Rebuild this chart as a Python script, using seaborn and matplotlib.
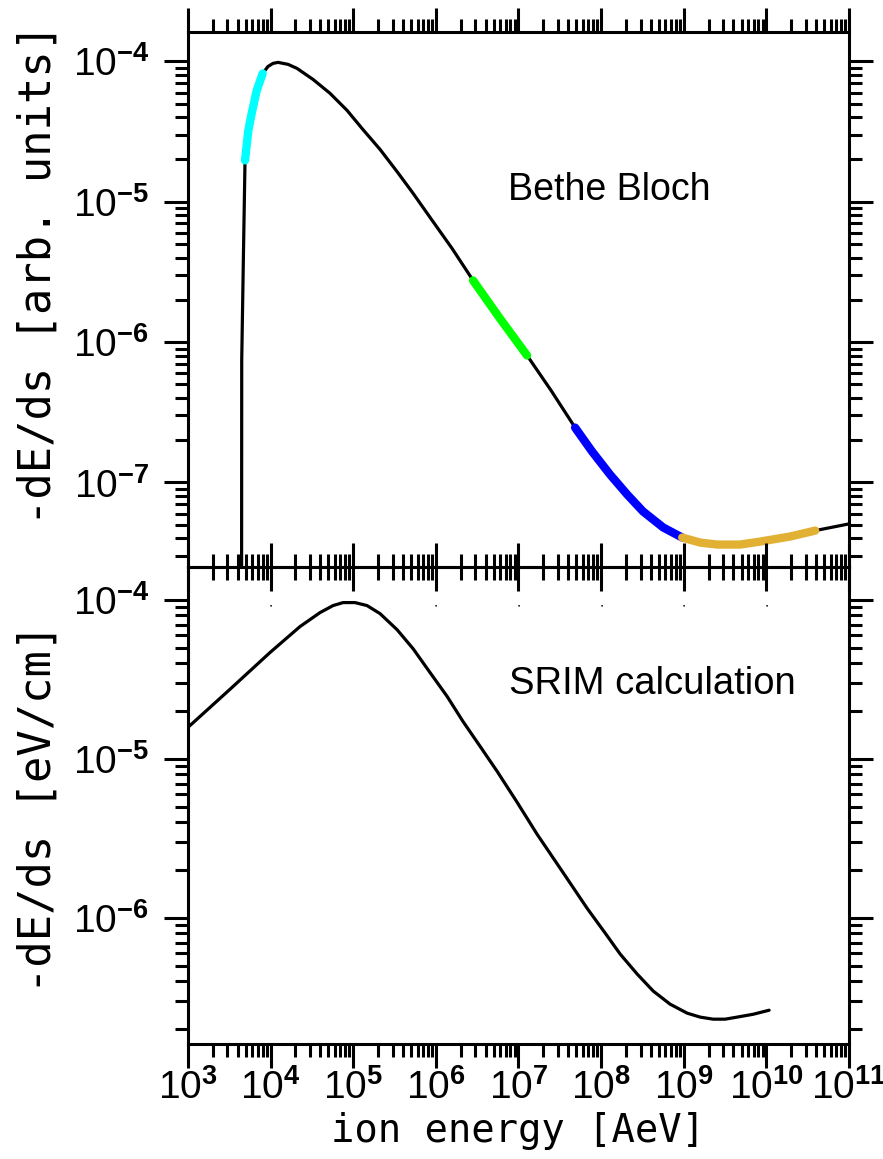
import numpy as np
import pandas as pd
import matplotlib
matplotlib.use("Agg")
import matplotlib.pyplot as plt
import seaborn as sns
from matplotlib.ticker import LogLocator, FuncFormatter, NullFormatter

# Bethe-Bloch curve (top panel)
bb_energy = [4.44e3, 4.47e3, 4.67e3, 4.90e3, 5.37e3, 5.90e3, 6.79e3, 8.02e3, 9.31e3, 1.07e4,
             1.23e4, 1.63e4, 2.09e4, 3.26e4, 5.24e4, 8.41e4, 1.31e5, 2.11e5, 3.39e5, 5.29e5,
             8.51e5, 1.57e6, 2.82e6, 5.98e6, 1.27e7, 2.48e7, 4.84e7, 7.78e7, 1.28e8, 2.07e8,
             3.22e8, 5.63e8, 9.57e8, 1.58e9, 2.54e9, 4.82e9, 8.41e9, 1.94e10, 3.90e10, 1.04e11]
bb_dedx = [1e-9, 7.40e-7, 3.63e-6, 1.97e-5, 3.22e-5, 4.26e-5, 6.21e-5, 8.21e-5, 9.21e-5, 9.68e-5,
           9.84e-5, 9.52e-5, 8.91e-5, 7.44e-5, 5.92e-5, 4.48e-5, 3.27e-5, 2.36e-5, 1.64e-5, 1.15e-5,
           7.73e-6, 4.65e-6, 2.75e-6, 1.47e-6, 8.03e-7, 4.52e-7, 2.46e-7, 1.66e-7, 1.14e-7, 8.20e-8,
           6.21e-8, 4.78e-8, 4.05e-8, 3.73e-8, 3.61e-8, 3.61e-8, 3.79e-8, 4.12e-8, 4.54e-8, 5.09e-8]

# highlighted energy ranges on the Bethe-Bloch curve
seg_lo = [4.90e3, 2.82e6, 4.84e7, 9.57e8]
seg_hi = [8.02e3, 1.27e7, 9.57e8, 3.90e10]
seg_colors = ["#00ffff", "#00ff00", "#0000ff", "#e2b133"]

# SRIM calculation (bottom panel)
srim_energy = [1.00e3, 3.22e3, 9.84e3, 2.27e4, 3.96e4, 5.69e4, 7.53e4, 1.05e5, 1.47e5, 2.11e5,
               3.39e5, 5.29e5, 8.51e5, 1.37e6, 2.13e6, 3.43e6, 5.51e6, 9.62e6, 1.68e7, 3.37e7,
               6.77e7, 1.12e8, 1.70e8, 2.73e8, 4.27e8, 6.84e8, 1.10e9, 1.58e9, 2.27e9, 3.17e9,
               4.43e9, 6.92e9, 1.08e10]
srim_dedx = [1.58e-5, 2.74e-5, 4.67e-5, 6.80e-5, 8.32e-5, 9.21e-5, 9.62e-5, 9.62e-5, 9.21e-5, 8.20e-5,
             6.50e-5, 4.94e-5, 3.49e-5, 2.47e-5, 1.72e-5, 1.20e-5, 8.36e-6, 5.34e-6, 3.36e-6, 1.97e-6,
             1.15e-6, 8.03e-7, 5.93e-7, 4.44e-7, 3.47e-7, 2.87e-7, 2.52e-7, 2.38e-7, 2.31e-7, 2.31e-7,
             2.38e-7, 2.48e-7, 2.63e-7]

# decades that show a small dot under the top panel's x axis
dot_decades = [4, 6, 7, 8, 9, 10]

sns.set_theme(style="ticks")
plt.rcParams["font.family"] = ["DejaVu Sans"]
plt.rcParams["mathtext.fontset"] = "custom"
plt.rcParams["mathtext.rm"] = "Liberation Sans"
plt.rcParams["mathtext.bf"] = "Liberation Sans:bold"
for key in ["text.color", "axes.labelcolor", "xtick.color", "ytick.color", "axes.edgecolor"]:
    plt.rcParams[key] = "black"

bb = pd.DataFrame({"energy": bb_energy, "dedx": bb_dedx})
srim = pd.DataFrame({"energy": srim_energy, "dedx": srim_dedx})

fig = plt.figure(figsize=(8.83, 11.59), dpi=100)
left, width = 0.2129, 0.7486
split = 0.5104
bottom = 0.0995
ax1 = fig.add_axes([left, split, width, 0.9724 - split])
ax2 = fig.add_axes([left, bottom, width, split - bottom])
ax2.set_facecolor("none")


def exp_fmt(v, pos):
    return r"$\mathrm{10}^{\mathbf{%d}}$" % int(round(np.log10(v)))


def dot_fmt(v, pos):
    return r"$\bullet$" if int(round(np.log10(v))) in dot_decades else ""


for ax in (ax1, ax2):
    ax.set_xscale("log")
    ax.set_yscale("log")
    ax.set_xlim(1e3, 1e11)
    ax.xaxis.set_major_locator(LogLocator(base=10, numticks=20))
    ax.xaxis.set_minor_locator(LogLocator(base=10, subs=np.arange(2, 10), numticks=100))
    ax.yaxis.set_major_locator(LogLocator(base=10, numticks=20))
    ax.yaxis.set_minor_locator(LogLocator(base=10, subs=np.arange(2, 10), numticks=100))
    ax.xaxis.set_minor_formatter(NullFormatter())
    ax.yaxis.set_minor_formatter(NullFormatter())
    ax.xaxis.set_major_formatter(FuncFormatter(exp_fmt))
    ax.yaxis.set_major_formatter(FuncFormatter(exp_fmt))
    ax.tick_params(which="both", direction="out", top=True, right=True,
                   bottom=True, left=True, width=2.2, color="black")
    ax.tick_params(which="major", length=17, labelsize=28)
    ax.tick_params(which="minor", length=9.5)
    ax.tick_params(axis="x", which="major", pad=1)
    ax.tick_params(axis="y", which="major", pad=11)
    for s in ax.spines.values():
        s.set_linewidth(2.2)

ax1.set_ylim(2.48e-8, 1.62e-4)
ax2.set_ylim(1.62e-7, 1.6e-4)
ax1.xaxis.set_major_formatter(FuncFormatter(dot_fmt))
ax1.tick_params(axis="x", which="major", labelsize=11, pad=4)

# Bethe-Bloch black curve + colour highlighted ranges
sns.lineplot(data=bb, x="energy", y="dedx", ax=ax1, color="black", linewidth=2.3,
             sort=False, estimator=None, zorder=3)
for lo, hi, c in zip(seg_lo, seg_hi, seg_colors):
    part = bb[(bb["energy"] >= lo) & (bb["energy"] <= hi)]
    sns.lineplot(data=part, x="energy", y="dedx", ax=ax1, color=c, linewidth=6,
                 sort=False, estimator=None, zorder=4, solid_capstyle="round")

sns.lineplot(data=srim, x="energy", y="dedx", ax=ax2, color="black", linewidth=2.3,
             sort=False, estimator=None)

ax1.text(0.638, 0.704, "Bethe Bloch", transform=ax1.transAxes, ha="center", va="center",
         fontsize=27, family="Liberation Sans")
ax2.text(0.703, 0.756, "SRIM calculation", transform=ax2.transAxes, ha="center", va="center",
         fontsize=27.5, family="Liberation Sans")

ax1.set_ylabel("-dE/ds [arb. units]", fontsize=31.5, family="DejaVu Sans Mono")
ax1.yaxis.set_label_coords(-0.194, 0.548)
ax1.set_xlabel("")
ax2.set_ylabel("-dE/ds [eV/cm]", fontsize=31.5, family="DejaVu Sans Mono")
ax2.yaxis.set_label_coords(-0.194, 0.494)
ax2.set_xlabel("ion energy [AeV]", fontsize=28, family="DejaVu Sans Mono", labelpad=4)

fig.savefig("out.png", dpi=100)
